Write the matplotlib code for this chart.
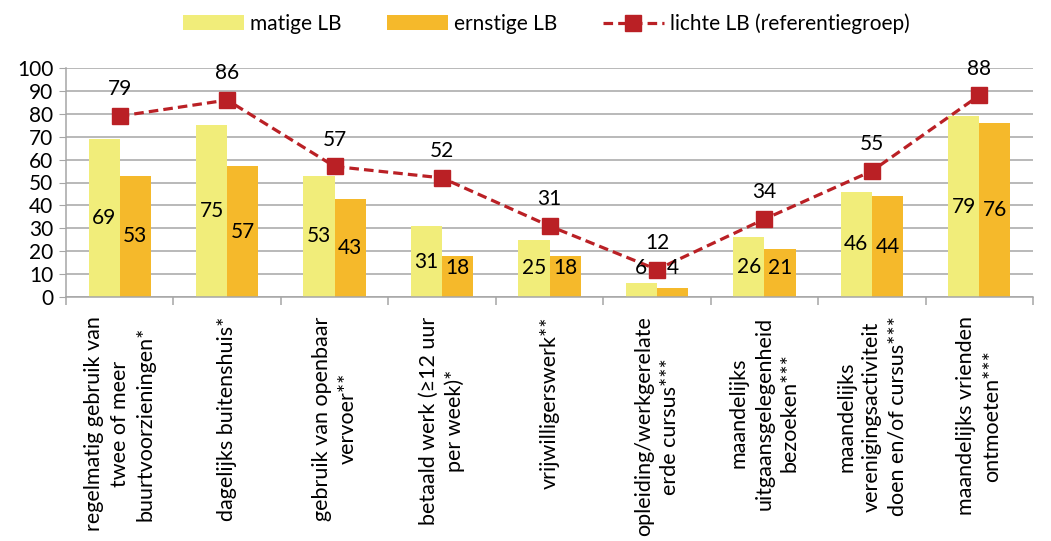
import numpy as np
import matplotlib
matplotlib.use("Agg")
import matplotlib.pyplot as plt

plt.rcParams['font.family'] = ['Lato', 'DejaVu Sans']

categories = [
    "regelmatig gebruik van\ntwee of meer\nbuurtvoorzieningen*",
    "dagelijks buitenshuis*",
    "gebruik van openbaar\nvervoer**",
    "betaald werk (≥12 uur\nper week)*",
    "vrijwilligerswerk**",
    "opleiding/werkgerelate\nerde cursus***",
    "maandelijks\nuitgaansgelegenheid\nbezoeken***",
    "maandelijks\nverenigingsactiviteit\ndoen en/of cursus***",
    "maandelijks vrienden\nontmoeten***",
]
matige = [69, 75, 53, 31, 25, 6, 26, 46, 79]
ernstige = [53, 57, 43, 18, 18, 4, 21, 44, 76]
lichte = [79, 86, 57, 52, 31, 12, 34, 55, 88]

c_yel = '#F1ED7A'
c_ora = '#F5B92B'
c_red = '#BA2025'

fig = plt.figure(figsize=(10.51, 5.41), dpi=100)
ax = fig.add_axes([66/1051, 1-297/541, (1033-66)/1051, (297-68)/541])

x = np.arange(len(categories))
w = 0.29
ax.bar(x - w/2, matige, w, color=c_yel, label='matige LB', zorder=2)
ax.bar(x + w/2, ernstige, w, color=c_ora, label='ernstige LB', zorder=2)
ax.plot(x, lichte, ls=(0, (3, 1.6)), color=c_red, lw=2.3, marker='s', ms=11,
        label='lichte LB (referentiegroep)', zorder=3)

for i in range(len(x)):
    ax.text(x[i] - w/2, max(matige[i]/2, 12.5), str(matige[i]), ha='center', va='center',
            fontsize=15, zorder=4)
    ax.text(x[i] + w/2, max(ernstige[i]/2, 12.5), str(ernstige[i]), ha='center', va='center',
            fontsize=15, zorder=4)
    ax.annotate(str(lichte[i]), (x[i], lichte[i]), xytext=(0, 12), textcoords='offset points',
                ha='center', va='bottom', fontsize=15, zorder=4)

ax.set_xlim(-0.5, len(x) - 0.5)
ax.set_ylim(0, 100)
ax.set_yticks(range(0, 101, 10))
ax.yaxis.grid(True, color='#A6A6A6', lw=1.1, zorder=0)
ax.set_axisbelow(True)
ax.tick_params(axis='y', labelsize=15, length=5, color='#A6A6A6', pad=4)

ax.set_xticks(x)
ax.set_xticklabels(categories, rotation=90, fontsize=15.5, ha='center', va='top',
                   multialignment='center', linespacing=1.35)
ax.tick_params(axis='x', which='major', length=0, pad=14)
ax.set_xticks(np.arange(-0.5, len(x), 1), minor=True)
ax.tick_params(axis='x', which='minor', length=6, color='#A6A6A6', width=1.1)

for s in ['top', 'right']:
    ax.spines[s].set_visible(False)
for s in ['left', 'bottom']:
    ax.spines[s].set_color('#A6A6A6')
    ax.spines[s].set_linewidth(1.1)

handles, labels = ax.get_legend_handles_labels()
order = [1, 2, 0]
fig.legend([handles[k] for k in order], [labels[k] for k in order],
           loc='upper center', bbox_to_anchor=(0.52, 1.01), ncol=3, frameon=False,
           fontsize=15, handlelength=2.9, columnspacing=2.2, handletextpad=0.3)

fig.savefig('out.png', dpi=100)
